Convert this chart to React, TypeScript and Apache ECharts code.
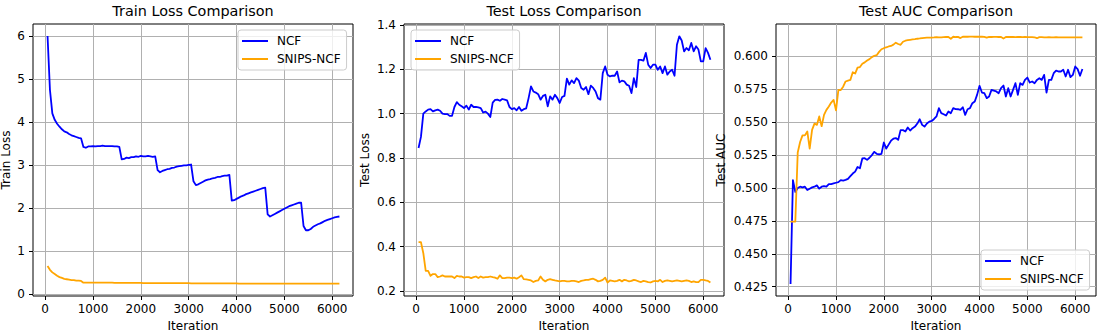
import React, { useEffect, useRef } from "react";
import * as echarts from "echarts";

// iteration index of each logged point
const iterations: number[] = Array.from({ length: 123 }, (_, i) => 50 + 50 * i);

const xTicks = [0, 1000, 2000, 3000, 4000, 5000, 6000];
const trainTicks = [0, 1, 2, 3, 4, 5, 6];
const testTicks = [0.2, 0.4, 0.6, 0.8, 1.0, 1.2, 1.4];
const aucTicks = [0.425, 0.45, 0.475, 0.5, 0.525, 0.55, 0.575, 0.6];

const seriesNames = ["NCF", "SNIPS-NCF"];
const titles = ["Train Loss Comparison", "Test Loss Comparison", "Test AUC Comparison"];
const yNames = ["Train Loss", "Test Loss", "Test AUC"];

const trainNCF = [
  6.0, 4.75, 4.2, 4.05, 3.96, 3.89, 3.83, 3.78, 3.76, 3.72,
  3.69, 3.67, 3.65, 3.63, 3.62, 3.42, 3.4, 3.43, 3.43, 3.44,
  3.43, 3.44, 3.44, 3.45, 3.44, 3.44, 3.44, 3.44, 3.43, 3.43,
  3.42, 3.13, 3.14, 3.17, 3.16, 3.18, 3.18, 3.2, 3.19, 3.21,
  3.2, 3.2, 3.21, 3.2, 3.19, 3.2, 2.88, 2.83, 2.86, 2.88,
  2.9, 2.91, 2.93, 2.94, 2.96, 2.97, 2.98, 2.99, 2.99, 3.0,
  3.01, 2.62, 2.53, 2.55, 2.58, 2.61, 2.64, 2.66, 2.67, 2.69,
  2.7, 2.72, 2.72, 2.74, 2.75, 2.75, 2.77, 2.17, 2.18, 2.21,
  2.24, 2.27, 2.29, 2.32, 2.34, 2.36, 2.38, 2.4, 2.42, 2.44,
  2.46, 2.47, 1.85, 1.8, 1.83, 1.86, 1.89, 1.92, 1.95, 1.98,
  2.01, 2.04, 2.06, 2.08, 2.1, 2.12, 2.12, 1.58, 1.48, 1.48,
  1.51, 1.56, 1.59, 1.62, 1.64, 1.67, 1.7, 1.72, 1.74, 1.76,
  1.78, 1.79, 1.8,
];

const trainSNIPS = [
  0.65, 0.56, 0.5, 0.46, 0.42, 0.39, 0.37, 0.35, 0.34, 0.33,
  0.32, 0.32, 0.31, 0.31, 0.3, 0.26, 0.26, 0.26, 0.26, 0.26,
  0.26, 0.26, 0.26, 0.26, 0.26, 0.26, 0.26, 0.26, 0.255, 0.255,
  0.255, 0.255, 0.255, 0.255, 0.255, 0.255, 0.255, 0.255, 0.255, 0.255,
  0.25, 0.25, 0.25, 0.25, 0.25, 0.25, 0.25, 0.25, 0.25, 0.25,
  0.25, 0.25, 0.25, 0.25, 0.25, 0.25, 0.25, 0.25, 0.25, 0.25,
  0.245, 0.245, 0.245, 0.245, 0.245, 0.245, 0.245, 0.245, 0.245, 0.245,
  0.245, 0.245, 0.245, 0.245, 0.245, 0.245, 0.245, 0.245, 0.245, 0.245,
  0.24, 0.24, 0.24, 0.24, 0.24, 0.24, 0.24, 0.24, 0.24, 0.24,
  0.24, 0.24, 0.24, 0.24, 0.24, 0.24, 0.24, 0.24, 0.24, 0.24,
  0.24, 0.24, 0.24, 0.24, 0.24, 0.24, 0.24, 0.24, 0.24, 0.24,
  0.24, 0.24, 0.24, 0.24, 0.24, 0.24, 0.24, 0.24, 0.24, 0.24,
  0.24, 0.24, 0.24,
];

const testNCF = [
  0.845, 0.895, 1.0, 1.01, 1.018, 1.02, 1.01, 1.015, 1.018, 1.013,
  1.0, 0.998, 0.998, 0.99, 0.99, 1.03, 1.052, 1.04, 1.033, 1.025,
  1.036, 1.018, 1.04, 1.03, 1.03, 1.028, 1.025, 1.005, 1.009, 1.0,
  0.985, 1.05, 1.062, 1.063, 1.058, 1.066, 1.063, 1.06, 1.03, 1.02,
  1.025, 1.015, 1.03, 1.013, 1.02, 1.024, 1.07, 1.123, 1.1, 1.095,
  1.088, 1.063, 1.08, 1.085, 1.033, 1.078, 1.063, 1.085, 1.07, 1.048,
  1.075, 1.08, 1.158, 1.131, 1.15, 1.138, 1.16, 1.149, 1.116, 1.108,
  1.12, 1.088, 1.126, 1.116, 1.1, 1.07, 1.063, 1.183, 1.213, 1.175,
  1.168, 1.171, 1.171, 1.19, 1.141, 1.149, 1.146, 1.131, 1.126, 1.093,
  1.16, 1.12, 1.243, 1.243, 1.239, 1.274, 1.221, 1.206, 1.221, 1.221,
  1.198, 1.213, 1.183, 1.213, 1.176, 1.19, 1.198, 1.171, 1.311, 1.349,
  1.33, 1.281, 1.296, 1.286, 1.319, 1.281, 1.304, 1.289, 1.236, 1.236,
  1.296, 1.274, 1.243,
];

const testSNIPS = [
  0.42, 0.42, 0.37, 0.29, 0.29, 0.268, 0.276, 0.276, 0.262, 0.265,
  0.27, 0.265, 0.265, 0.265, 0.265, 0.258, 0.268, 0.265, 0.265, 0.26,
  0.262, 0.262, 0.258, 0.262, 0.265, 0.258, 0.265, 0.26, 0.262, 0.262,
  0.265, 0.262, 0.26, 0.255, 0.27, 0.258, 0.258, 0.26, 0.26, 0.258,
  0.26, 0.255, 0.262, 0.27, 0.253, 0.252, 0.25, 0.247, 0.24, 0.245,
  0.247, 0.265, 0.25, 0.243, 0.25, 0.253, 0.25, 0.247, 0.245, 0.243,
  0.245, 0.245, 0.243, 0.243, 0.245, 0.245, 0.243, 0.24, 0.245, 0.247,
  0.25, 0.25, 0.253, 0.255, 0.25, 0.243, 0.245, 0.25, 0.26, 0.238,
  0.247, 0.245, 0.243, 0.245, 0.25, 0.243, 0.25, 0.247, 0.243, 0.245,
  0.25, 0.247, 0.243, 0.24, 0.245, 0.243, 0.24, 0.238, 0.243, 0.245,
  0.243, 0.25, 0.24, 0.245, 0.247, 0.245, 0.243, 0.245, 0.247, 0.245,
  0.243, 0.245, 0.247, 0.245, 0.24, 0.243, 0.24, 0.24, 0.25, 0.25,
  0.247, 0.245, 0.238,
];

const aucNCF = [
  0.427, 0.506, 0.497, 0.5, 0.501, 0.5005, 0.501, 0.4985, 0.4995, 0.5005,
  0.501, 0.502, 0.4995, 0.501, 0.5015, 0.501, 0.503, 0.503, 0.5035, 0.504,
  0.5045, 0.506, 0.5057, 0.5062, 0.507, 0.509, 0.511, 0.5125, 0.516, 0.515,
  0.5225, 0.5227, 0.5214, 0.523, 0.525, 0.5275, 0.526, 0.5255, 0.526, 0.5346,
  0.53, 0.533, 0.536, 0.5375, 0.538, 0.5366, 0.544, 0.544, 0.543, 0.546,
  0.5437, 0.5455, 0.5467, 0.549, 0.5523, 0.548, 0.5467, 0.549, 0.5505, 0.551,
  0.5525, 0.5544, 0.5607, 0.5569, 0.5561, 0.5551, 0.5582, 0.5569, 0.5607, 0.56,
  0.5599, 0.5594, 0.5614, 0.5556, 0.5599, 0.5607, 0.5645, 0.5658, 0.571, 0.5777,
  0.5726, 0.5721, 0.5683, 0.5696, 0.5746, 0.574, 0.5734, 0.5721, 0.5759, 0.5779,
  0.5696, 0.5759, 0.5696, 0.5746, 0.5797, 0.5708, 0.5797, 0.5784, 0.5822, 0.584,
  0.5802, 0.581, 0.5797, 0.5822, 0.5835, 0.5822, 0.586, 0.5726, 0.5822, 0.5822,
  0.5873, 0.5893, 0.5886, 0.5886, 0.5899, 0.5848, 0.5899, 0.5843, 0.586, 0.5924,
  0.5904, 0.5853, 0.5905,
];

const aucSNIPS = [
  0.4745, 0.4745, 0.4745, 0.527, 0.535, 0.54, 0.54, 0.543, 0.53, 0.5442,
  0.549, 0.548, 0.5544, 0.547, 0.5556, 0.5594, 0.562, 0.565, 0.567, 0.559,
  0.5746, 0.5745, 0.577, 0.581, 0.5817, 0.5822, 0.588, 0.587, 0.5915, 0.592,
  0.5945, 0.5955, 0.597, 0.598, 0.5995, 0.6005, 0.601, 0.6035, 0.6055, 0.6063,
  0.607, 0.6076, 0.608, 0.609, 0.6105, 0.6095, 0.6089, 0.6112, 0.612, 0.6124,
  0.6127, 0.613, 0.6132, 0.6135, 0.6137, 0.614, 0.6142, 0.6143, 0.6144, 0.6144,
  0.6145, 0.6147, 0.6146, 0.6145, 0.6147, 0.6148, 0.6148, 0.6135, 0.615, 0.6148,
  0.6149, 0.614, 0.615, 0.615, 0.615, 0.6151, 0.6151, 0.615, 0.6151, 0.615,
  0.615, 0.6149, 0.6143, 0.6149, 0.6148, 0.6149, 0.6149, 0.6148, 0.6148, 0.6137,
  0.6148, 0.6148, 0.6149, 0.6148, 0.6147, 0.6148, 0.6148, 0.6147, 0.6148, 0.6147,
  0.6147, 0.6147, 0.6146, 0.6139, 0.6147, 0.6147, 0.6146, 0.6146, 0.6147, 0.6146,
  0.6146, 0.6147, 0.6146, 0.6145, 0.6146, 0.6146, 0.6146, 0.6146, 0.6146, 0.6146,
  0.6146, 0.6146, 0.6146,
];

const FONT = "DejaVu Sans";
const COLORS = ["#0000ff", "#ffa500"];

export default function App() {
  const ref = useRef<HTMLDivElement>(null);

  useEffect(() => {
    if (!ref.current) return;
    const chart = echarts.init(ref.current, null, { renderer: "svg" });

    const gridLefts = [33, 404, 776];
    const gridW = 320;
    const gridTop = 24;
    const gridH = 272;
    const yRanges: [number, number][] = [
      [-0.05, 6.28],
      [0.177, 1.4045],
      [0.4179, 0.6247],
    ];
    const yTickSets = [trainTicks, testTicks, aucTicks];
    const yFormat = [
      (v: number) => String(Math.round(v)),
      (v: number) => v.toFixed(1),
      (v: number) => v.toFixed(3),
    ];
    const yNameGaps = [21, 33, 49];
    const legendPos = [
      { left: 238, top: 30 },
      { left: 411, top: 30 },
      { left: 981, top: 250 },
    ];
    const panelData = [
      [trainNCF, trainSNIPS],
      [testNCF, testSNIPS],
      [aucNCF, aucSNIPS],
    ];

    const tickStyle = { color: "#000", width: 1 };
    const splitStyle = { color: "#b0b0b0", width: 1 };

    const option: any = {
      animation: false,
      textStyle: { fontFamily: FONT },
      title: titles.map((t, i) => ({
        text: t,
        left: gridLefts[i] + gridW / 2,
        top: 4,
        textAlign: "center",
        padding: 0,
        textStyle: { fontFamily: FONT, fontSize: 14.4, fontWeight: "normal", color: "#000" },
      })),
      grid: gridLefts.map((l) => ({
        left: l,
        top: gridTop,
        width: gridW,
        height: gridH,
        show: true,
        borderColor: "#000",
        borderWidth: 1,
        backgroundColor: "transparent",
        containLabel: false,
        outerBoundsMode: "none",
      })),
      xAxis: gridLefts.map((_, i) => ({
        type: "value",
        gridIndex: i,
        min: -254,
        max: 6434,
        name: "Iteration",
        nameLocation: "middle",
        nameGap: 22,
        nameTextStyle: { fontFamily: FONT, fontSize: 12, color: "#000" },
        axisLine: { show: false, onZero: false },
        axisTick: { show: true, length: 4, customValues: xTicks, lineStyle: tickStyle },
        axisLabel: {
          customValues: xTicks,
          fontFamily: FONT,
          fontSize: 12,
          color: "#000",
          margin: 7,
          formatter: (v: number) => String(Math.round(v)),
        },
        splitLine: { show: true, lineStyle: splitStyle },
      })),
      yAxis: gridLefts.map((_, i) => ({
        type: "value",
        gridIndex: i,
        min: yRanges[i][0],
        max: yRanges[i][1],
        name: yNames[i],
        nameLocation: "middle",
        nameGap: yNameGaps[i],
        nameTextStyle: { fontFamily: FONT, fontSize: 12, color: "#000" },
        axisLine: { show: false, onZero: false },
        axisTick: { show: true, length: 4, customValues: yTickSets[i], lineStyle: tickStyle },
        axisLabel: {
          customValues: yTickSets[i],
          fontFamily: FONT,
          fontSize: 12,
          color: "#000",
          margin: 8,
          formatter: yFormat[i],
        },
        splitLine: { show: true, lineStyle: splitStyle },
      })),
      legend: legendPos.map((p) => ({
        data: seriesNames,
        orient: "vertical",
        left: p.left,
        top: p.top,
        icon: "rect",
        itemWidth: 26,
        itemHeight: 2,
        itemGap: 6,
        padding: [5, 6, 5, 4],
        backgroundColor: "rgba(255,255,255,0.8)",
        borderColor: "#cccccc",
        borderWidth: 1,
        borderRadius: 3,
        selectedMode: false,
        textStyle: { fontFamily: FONT, fontSize: 12, color: "#000", lineHeight: 12, padding: [0, 0, 0, 4] },
      })),
      series: panelData.flatMap((pair, i) =>
        pair.map((vals, k) => ({
          type: "line",
          name: seriesNames[k],
          xAxisIndex: i,
          yAxisIndex: i,
          data: iterations.map((it, j) => [it, vals[j]]),
          showSymbol: false,
          symbol: "none",
          color: COLORS[k],
          itemStyle: { color: COLORS[k] },
          lineStyle: { color: COLORS[k], width: 1.8, join: "round", cap: "butt" },
          emphasis: { disabled: true },
          silent: true,
          z: 3 + k,
        }))
      ),
    };

    chart.setOption(option);
    return () => chart.dispose();
  }, []);

  return (
    <div
      ref={ref}
      style={{ position: "fixed", left: 0, top: 0, width: 1105, height: 336, background: "#fff" }}
    />
  );
}
